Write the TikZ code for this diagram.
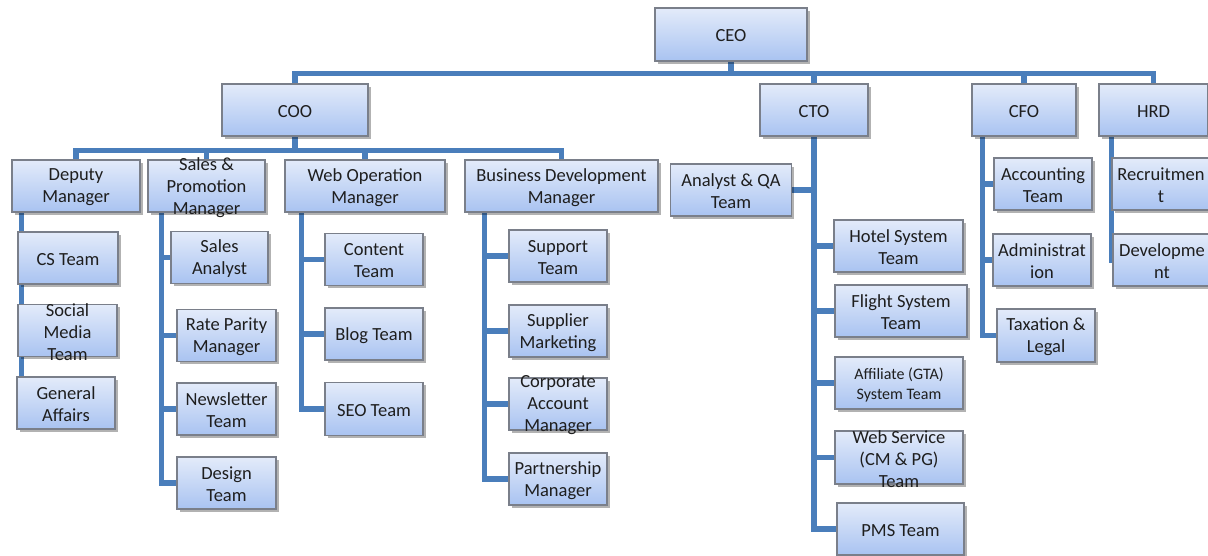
\documentclass[tikz,border=0pt]{standalone}
\usepackage{fontspec}
\setmainfont{Carlito}
\usetikzlibrary{shadows}

\definecolor{orgline}{HTML}{4A7EBB}
\definecolor{boxtop}{HTML}{E3EBFA}
\definecolor{boxbot}{HTML}{A9C3F1}
\definecolor{boxedge}{HTML}{7A7F8A}
\definecolor{inktext}{HTML}{1E1E1E}

\pgfdeclarelayer{background}
\pgfsetlayers{background,main}

\tikzset{
  ubox/.style={rectangle, draw=boxedge, line width=1.1pt,
    top color=boxtop, bottom color=boxbot, inner sep=0pt,
    drop shadow={shadow xshift=2.5pt, shadow yshift=-2.5pt, opacity=0.3, fill=black}},
  utext/.style={align=center, inner sep=0pt, text=inktext, yshift=-1.5pt,
    font=\fontsize{18.5}{22}\selectfont},
  smalltext/.style={font=\fontsize{16}{20}\selectfont},
  conn/.style={draw=orgline, line width=5.5pt}
}

% name, centre x, centre y, width, height, label
\newcommand{\orgbox}[6]{%
  \node[ubox, minimum width=#4pt, minimum height=#5pt] (#1) at (#2,#3) {};
  \node[utext] (#1-t) at (#1.center) {#6};}

\begin{document}
\begin{tikzpicture}[x=1pt, y=-1pt]
\path[use as bounding box, clip] (0,0) rectangle (1208,555);

% top levels
\orgbox{ceo}{731}{34.5}{152}{53}{CEO}
\orgbox{coo}{295}{110}{146}{52}{COO}
\orgbox{cto}{814}{110}{108}{52}{CTO}
\orgbox{cfo}{1024}{110}{104}{52}{CFO}
\orgbox{hrd}{1153.5}{110}{109}{52}{HRD}

% managers under the COO
\orgbox{dep}{76}{186}{128}{52}{Deputy\\Manager}
\orgbox{sales}{206.5}{186}{117}{52}{Sales \&\\Promotion\\Manager}
\orgbox{webop}{365}{186}{160}{52}{Web Operation\\Manager}
\orgbox{bizdev}{561.5}{186}{193}{52}{Business Development\\Manager}

% deputy manager teams
\orgbox{cs}{68}{258}{100}{52}{CS Team}
\orgbox{social}{67.5}{330.5}{99}{52}{Social\\Media\\Team}
\orgbox{ga}{66}{403}{98}{52}{General\\Affairs}

% sales and promotion teams
\orgbox{salesan}{219.5}{257.5}{97}{52}{Sales\\Analyst}
\orgbox{rate}{226.5}{335.5}{99}{52}{Rate Parity\\Manager}
\orgbox{news}{226.5}{409}{99}{52}{Newsletter\\Team}
\orgbox{design}{226.5}{483}{99}{52}{Design\\Team}

% web operation teams
\orgbox{content}{374}{259.5}{98}{52}{Content\\Team}
\orgbox{blog}{374}{334}{98}{52}{Blog Team}
\orgbox{seo}{374}{409}{98}{53}{SEO Team}

% business development teams
\orgbox{support}{558}{256}{98}{52}{Support\\Team}
\orgbox{supplier}{558}{331}{98}{52}{Supplier\\Marketing}
\orgbox{corporate}{558}{404}{98}{52}{Corporate\\Account\\Manager}
\orgbox{partner}{558}{479}{98}{52}{Partnership\\Manager}

% technology teams
\orgbox{analyst}{731}{190}{121}{52}{Analyst \& QA\\Team}
\orgbox{hotel}{898.5}{246}{129}{52}{Hotel System\\Team}
\orgbox{flight}{901}{311}{132}{52}{Flight System\\Team}
\node[ubox, minimum width=128pt, minimum height=52pt] (affiliate) at (899,383) {};
\node[utext, smalltext] (affiliate-t) at (affiliate.center) {Affiliate (GTA)\\System Team};
\orgbox{websvc}{899}{457.5}{128}{53}{Web Service\\(CM \& PG)\\Team}
\orgbox{pms}{900.5}{529}{127}{52}{PMS Team}

% finance teams
\orgbox{accounting}{1043}{184}{98}{52}{Accounting\\Team}
\orgbox{admin}{1042}{260}{98}{52}{Administrat\\ion}
\orgbox{tax}{1046}{335.5}{98}{53}{Taxation \&\\Legal}

% human resources teams
\orgbox{recruit}{1161}{184}{98}{52}{Recruitmen\\t}
\orgbox{develop}{1162}{260}{98}{52}{Developme\\nt}

% stem tops below each parent
\coordinate (dep-s) at ([xshift=10pt]dep.south west);
\coordinate (sales-s) at ([xshift=14pt]sales.south west);
\coordinate (webop-s) at ([xshift=17pt]webop.south west);
\coordinate (bizdev-s) at ([xshift=20pt]bizdev.south west);
\coordinate (cfo-s) at ([xshift=11pt]cfo.south west);
\coordinate (hrd-s) at ([xshift=13pt]hrd.south west);

\begin{pgfonlayer}{background}
  \foreach \c in {coo,cto,cfo,hrd}
    \draw[conn] (ceo.south) -- ++(0,12) -| (\c.north);
  \foreach \c in {dep,sales,webop,bizdev}
    \draw[conn] (coo.south) -- ++(0,14) -| (\c.north);
  \foreach \c in {cs,social,ga}
    \draw[conn] (dep-s) |- (\c.west);
  \foreach \c in {salesan,rate,news,design}
    \draw[conn] (sales-s) |- (\c.west);
  \foreach \c in {content,blog,seo}
    \draw[conn] (webop-s) |- (\c.west);
  \foreach \c in {support,supplier,corporate,partner}
    \draw[conn] (bizdev-s) |- (\c.west);
  \draw[conn] (cto.south) |- (analyst.east);
  \foreach \c in {hotel,flight,affiliate,websvc,pms}
    \draw[conn] (cto.south) |- (\c.west);
  \foreach \c in {accounting,admin,tax}
    \draw[conn] (cfo-s) |- (\c.west);
  \foreach \c in {recruit,develop}
    \draw[conn] (hrd-s) |- (\c.west);
\end{pgfonlayer}
\end{tikzpicture}
\end{document}
